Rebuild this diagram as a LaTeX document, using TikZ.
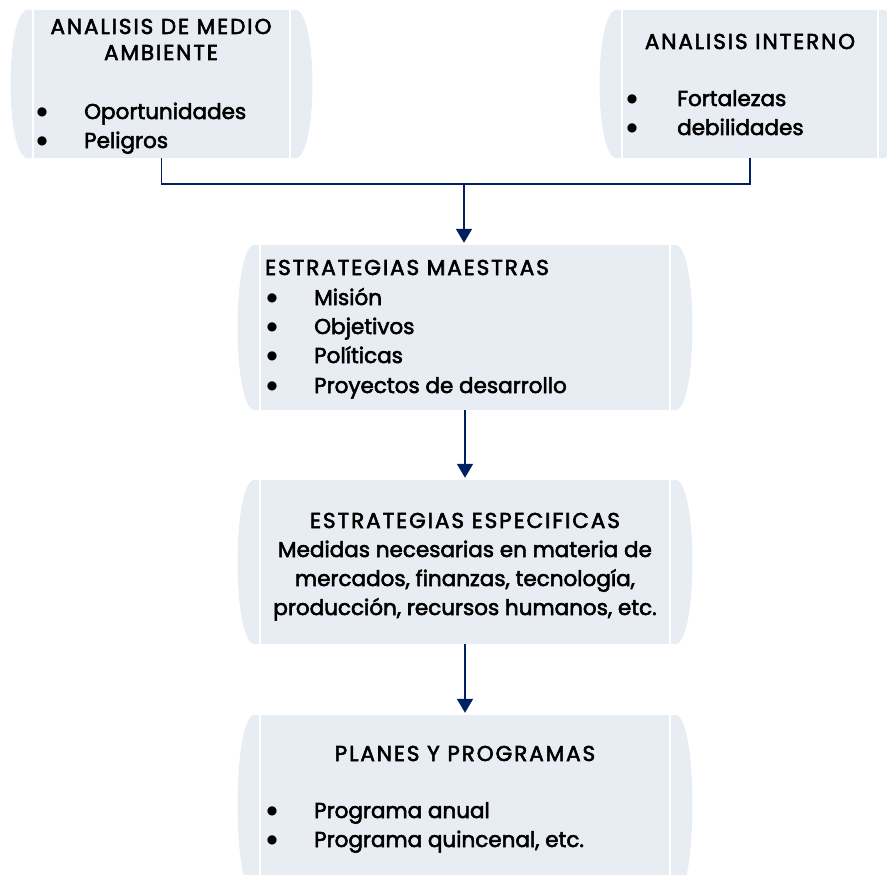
\documentclass[tikz,border=0pt]{standalone}
\usepackage{fontspec}
\setmainfont{Poppins}
\newfontfamily\medfont{Poppins}[FakeBold=2.6]
\newfontfamily\bulfont{DejaVu Sans}
\usetikzlibrary{arrows.meta}
\definecolor{boxfill}{RGB}{231,237,243}
\definecolor{navy}{RGB}{0,32,96}
\tikzset{
  procbox/.style={rectangle, fill=boxfill, inner sep=0pt, draw=none},
  conn/.style={draw=navy, line width=1.8pt},
  arr/.style={conn, -{Triangle[length=14pt,width=16pt]}, shorten >=2pt},
  txt/.style={font=\fontsize{21.5}{29}\selectfont\medfont, inner sep=0pt, text=black},
  caps/.style={font=\fontsize{21.5}{29}\selectfont\medfont\addfontfeature{LetterSpace=9}},
  lft/.style={txt, anchor=base west},
  ctr/.style={txt, anchor=base},
  bul/.style={font=\fontsize{12}{12}\selectfont\bulfont, inner sep=0pt, anchor=center},
}
\newcommand\sidebulges[1]{%
  \fill[boxfill] (#1.north west) -- ([xshift=-5pt]#1.north west)
    .. controls ([xshift=-28pt]#1.north west) and ([xshift=-28pt]#1.south west) .. ([xshift=-5pt]#1.south west)
    -- (#1.south west) -- cycle;
  \fill[boxfill] (#1.north east) -- ([xshift=5pt]#1.north east)
    .. controls ([xshift=28pt]#1.north east) and ([xshift=28pt]#1.south east) .. ([xshift=5pt]#1.south east)
    -- (#1.south east) -- cycle;
  \draw[white, line width=1.5pt] (#1.north west) -- (#1.south west);
  \draw[white, line width=1.5pt] (#1.north east) -- (#1.south east);
}
\begin{document}
\begin{tikzpicture}[x=1pt,y=-1pt]
\useasboundingbox (0,0) rectangle (887,875);
\clip (0,0) rectangle (887,875);
% boxes
\node[procbox, minimum width=257pt, minimum height=148pt] (b1) at (161.5,84) {};
\node[procbox, minimum width=256pt, minimum height=148pt] (bR) at (750,84) {};
\node[procbox, minimum width=410pt, minimum height=165pt] (b2) at (465,327.5) {};
\node[procbox, minimum width=410pt, minimum height=164pt] (b3) at (465,562) {};
\node[procbox, minimum width=410pt, minimum height=180pt] (b4) at (465,805) {};
\sidebulges{b1}
\sidebulges{bR}
\sidebulges{b2}
\sidebulges{b3}
\sidebulges{b4}
% connectors
\coordinate (jn) at (464,184);
\draw[conn] (b1.south) |- (jn) -| (bR.south);
\draw[arr] (jn) -- (jn |- b2.north);
\draw[arr] (b2.south) -- (b3.north);
\draw[arr] (b3.south) -- (b4.north);
% texts box 1
\node[ctr, caps] (t1a) at (161,34) {ANALISIS DE MEDIO};
\node[ctr, caps] (t1b) at (161,60) {AMBIENTE};
\node[bul] (p1a) at (42,112) {●};
\node[lft] (t1c) at (84,119) {Oportunidades};
\node[bul] (p1b) at (42,141) {●};
\node[lft] (t1d) at (84,148) {Peligros};
% texts right box
\node[ctr, caps] (tRa) at (750,49) {ANALISIS INTERNO};
\node[bul] (pRa) at (632,99) {●};
\node[lft] (tRb) at (677,106) {Fortalezas};
\node[bul] (pRb) at (632,128) {●};
\node[lft] (tRc) at (677,135) {debilidades};
% box 2
\node[lft, caps] (t2a) at (265,275) {ESTRATEGIAS MAESTRAS};
\node[bul] (p2a) at (272,298) {●};
\node[lft] (t2b) at (314,305) {Misión};
\node[bul] (p2b) at (272,327) {●};
\node[lft] (t2c) at (314,334) {Objetivos};
\node[bul] (p2c) at (272,356) {●};
\node[lft] (t2d) at (314,363) {Políticas};
\node[bul] (p2d) at (272,386) {●};
\node[lft] (t2e) at (314,393) {Proyectos de desarrollo};
% box 3
\node[ctr, caps] (t3a) at (465,528) {ESTRATEGIAS ESPECIFICAS};
\node[ctr] (t3b) at (465,557) {Medidas necesarias en materia de};
\node[ctr] (t3c) at (465,586) {mercados, finanzas, tecnología,};
\node[ctr] (t3d) at (465,615) {producción, recursos humanos, etc.};
% box 4
\node[ctr, caps] (t4a) at (465,761) {PLANES Y PROGRAMAS};
\node[bul] (p4a) at (272,811) {●};
\node[lft] (t4b) at (314,818) {Programa anual};
\node[bul] (p4b) at (272,840) {●};
\node[lft] (t4c) at (314,847) {Programa quincenal, etc.};
\end{tikzpicture}
\end{document}
